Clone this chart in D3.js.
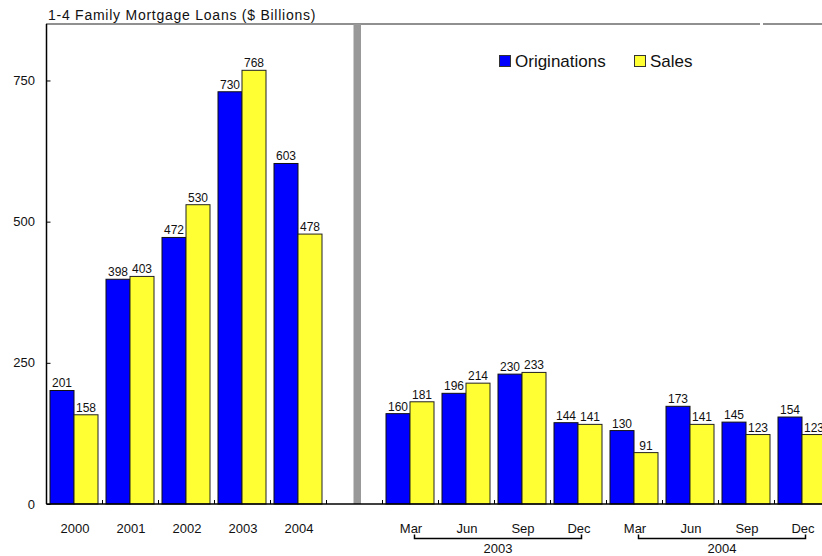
<!DOCTYPE html>
<html>
<head>
<meta charset="utf-8">
<script src="https://cdn.jsdelivr.net/npm/d3@7"></script>
<style>
  body { margin: 0; background: #fff; }
  text { font-family: Arial, "Liberation Sans", sans-serif; fill: #111; }
</style>
</head>
<body>
<div id="chart"></div>
<script>
var width = 822,
    height = 556;

// annual totals
var years = ["2000", "2001", "2002", "2003", "2004"];
var yearOrig = [201, 398, 472, 730, 603];
var yearSales = [158, 403, 530, 768, 478];

// quarterly
var quarters = ["Mar", "Jun", "Sep", "Dec", "Mar", "Jun", "Sep", "Dec"];
var quarterYear = ["2003", "2003", "2003", "2003", "2004", "2004", "2004", "2004"];
var quarterOrig = [160, 196, 230, 144, 130, 173, 145, 154];
var quarterSales = [181, 214, 233, 141, 91, 141, 123, 123];

var series = ["Originations", "Sales"];
var colors = { "Originations": "#0000ff", "Sales": "#ffff33" };
var strokes = { "Originations": "#111", "Sales": "#222" };
var yTicks = [0, 250, 500, 750];

// build slot list: 5 years, a spacer slot, then 8 quarters
var slots = [];
years.forEach(function (y, i) {
    slots.push({ key: "y" + i, label: y, values: [yearOrig[i], yearSales[i]] });
});
slots.push({ key: "gap", label: "", values: null });
quarters.forEach(function (q, i) {
    slots.push({ key: "q" + i, label: q, year: quarterYear[i], values: [quarterOrig[i], quarterSales[i]] });
});

var plotLeft = 46.5, plotTop = 24, base = 504, slotW = 56;

var svg = d3.select("#chart")
    .append("svg")
    .attr("width", width)
    .attr("height", height);

var x = d3.scaleBand()
    .domain(slots.map(d => d.key))
    .range([plotLeft, plotLeft + slots.length * slotW])
    .padding(0);

var xs = d3.scaleBand()
    .domain(series)
    .range([3.5, 51.5])
    .padding(0);

var y = d3.scaleLinear()
    .domain([0, 850])
    .range([base, plotTop]);

// title
svg.append("text")
    .attr("x", 48)
    .attr("y", 19.5)
    .style("font-size", "14px")
    .style("letter-spacing", "0.75px")
    .text("1-4 Family Mortgage Loans ($ Billions)");

// top border (with small break near the right)
svg.append("line")
    .attr("x1", plotLeft - 0.5).attr("x2", 760)
    .attr("y1", plotTop).attr("y2", plotTop)
    .style("stroke", "#222").style("stroke-width", 1.2);
svg.append("line")
    .attr("x1", 763).attr("x2", width)
    .attr("y1", plotTop).attr("y2", plotTop)
    .style("stroke", "#222").style("stroke-width", 1.2);

// separator between annual and quarterly
svg.append("rect")
    .attr("x", 353.5)
    .attr("y", plotTop)
    .attr("width", 7.5)
    .attr("height", base - plotTop)
    .style("fill", "#999");

// bars
var groups = svg.selectAll("g.slot")
    .data(slots.filter(d => d.values))
    .enter()
    .append("g")
    .attr("class", "slot")
    .attr("transform", d => `translate(${x(d.key)},0)`);

groups.selectAll("rect")
    .data(d => d.values.map((v, i) => ({ s: series[i], v: v })))
    .enter()
    .append("rect")
    .attr("x", d => xs(d.s))
    .attr("y", d => y(d.v))
    .attr("width", xs.bandwidth())
    .attr("height", d => base - y(d.v))
    .style("fill", d => colors[d.s])
    .style("stroke", d => strokes[d.s])
    .style("stroke-width", 1);

groups.selectAll("text.val")
    .data(d => d.values.map((v, i) => ({ s: series[i], v: v })))
    .enter()
    .append("text")
    .attr("class", "val")
    .attr("x", d => xs(d.s) + xs.bandwidth() / 2)
    .attr("y", d => y(d.v) - 3)
    .attr("text-anchor", "middle")
    .style("font-size", "12px")
    .text(d => d.v);

// y axis
var yAxis = d3.axisRight(y)
    .tickValues(yTicks)
    .tickSize(4)
    .tickFormat("");
var ya = svg.append("g")
    .attr("transform", `translate(${plotLeft},0)`)
    .call(yAxis);
ya.select(".domain").remove();
ya.selectAll("line").style("stroke", "#000");

svg.selectAll("text.ylab")
    .data(yTicks)
    .enter()
    .append("text")
    .attr("class", "ylab")
    .attr("x", 35)
    .attr("y", d => y(d) + 4.5)
    .attr("text-anchor", "end")
    .style("font-size", "13px")
    .text(d => d);

svg.append("line")
    .attr("x1", plotLeft).attr("x2", plotLeft)
    .attr("y1", plotTop).attr("y2", base)
    .style("stroke", "#000").style("stroke-width", 1.5);

// x axis baseline with slot boundary ticks
svg.append("line")
    .attr("x1", plotLeft).attr("x2", width)
    .attr("y1", base).attr("y2", base)
    .style("stroke", "#000").style("stroke-width", 1.5);

svg.selectAll("line.xtick")
    .data(slots.slice(1))
    .enter()
    .append("line")
    .attr("class", "xtick")
    .attr("x1", d => x(d.key)).attr("x2", d => x(d.key))
    .attr("y1", base).attr("y2", base - 4)
    .style("stroke", "#000").style("stroke-width", 1);

svg.selectAll("text.xlab")
    .data(slots.filter(d => d.label))
    .enter()
    .append("text")
    .attr("class", "xlab")
    .attr("x", d => x(d.key) + x.bandwidth() / 2 + 0.5)
    .attr("y", 532.5)
    .attr("text-anchor", "middle")
    .style("font-size", "13px")
    .text(d => d.label);

// year brackets under quarters
var qYears = Array.from(new Set(quarterYear));
qYears.forEach(function (yr) {
    var qs = slots.filter(d => d.year === yr);
    var x1 = x(qs[0].key) + x.bandwidth() / 2 + 4,
        x2 = x(qs[qs.length - 1].key) + x.bandwidth() / 2 + 3;
    svg.append("path")
        .attr("d", `M${x1},534.5V538.5H${x2}V534.5`)
        .style("fill", "none")
        .style("stroke", "#000")
        .style("stroke-width", 1.5);
    svg.append("text")
        .attr("x", (x1 + x2) / 2)
        .attr("y", 552.5)
        .attr("text-anchor", "middle")
        .style("font-size", "13px")
        .text(yr);
});

// legend
var legend = svg.append("g").attr("transform", "translate(499,55)");
var legX = [0, 135];
series.forEach(function (s, i) {
    legend.append("rect")
        .attr("x", legX[i] + 0.5)
        .attr("y", 0.5)
        .attr("width", 11)
        .attr("height", 11)
        .style("fill", colors[s])
        .style("stroke", "#333")
        .style("stroke-width", 1);
    legend.append("text")
        .attr("x", legX[i] + 16)
        .attr("y", 11.5)
        .style("font-size", "17px")
        .text(s);
});
</script>
</body>
</html>
